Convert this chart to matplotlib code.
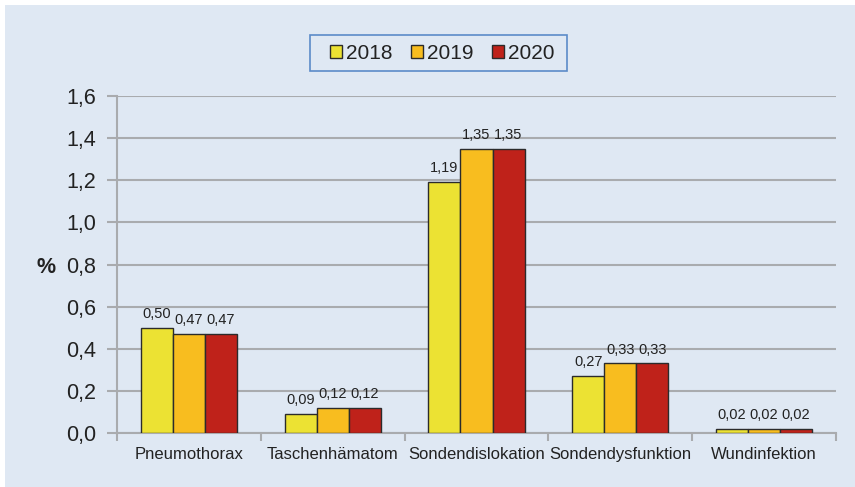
import matplotlib.pyplot as plt
import matplotlib.patches as mpatches
import numpy as np

plt.rcParams['font.family'] = ['Liberation Sans', 'DejaVu Sans']

# Data
categories = ['Pneumothorax', 'Taschenhämatom', 'Sondendislokation',
              'Sondendysfunktion', 'Wundinfektion']
years = ['2018', '2019', '2020']
values_2018 = [0.50, 0.09, 1.19, 0.27, 0.02]
values_2019 = [0.47, 0.12, 1.35, 0.33, 0.02]
values_2020 = [0.47, 0.12, 1.35, 0.33, 0.02]
y_ticks = [0.0, 0.2, 0.4, 0.6, 0.8, 1.0, 1.2, 1.4, 1.6]

colors = ['#ECE233', '#F8BD1F', '#BF221A']
bg = '#DFE8F3'
grid_col = '#A9ABAE'
W, H = 855, 487

fig = plt.figure(figsize=(8.55, 4.87), dpi=100)
fig.patch.set_facecolor('white')
# light blue panel with a thin white margin top/left
fig.patches.append(mpatches.Rectangle((5 / W, 0), 1, 1 - 5 / H,
                                      transform=fig.transFigure,
                                      facecolor=bg, edgecolor='none', zorder=-10))

ax = fig.add_axes([117 / W, 1 - 433 / H, (836 - 117) / W, (433 - 96) / H])
ax.set_facecolor(bg)

x = np.arange(len(categories))
w = 0.2226
series = [values_2018, values_2019, values_2020]
for i, (vals, col, yr) in enumerate(zip(series, colors, years)):
    bars = ax.bar(x + (i - 1) * w, vals, w, color=col, edgecolor='#2b2b2b',
                  linewidth=1.0, label=yr, zorder=3)
    for b, v in zip(bars, vals):
        ax.annotate(f'{v:.2f}'.replace('.', ','),
                    (b.get_x() + b.get_width() / 2, v),
                    xytext=(0, 5), textcoords='offset points',
                    ha='center', va='bottom', fontsize=10.5, color='#222222')

ax.set_xlim(-0.5, len(categories) - 0.5)
ax.set_ylim(0, 1.6)
ax.set_yticks(y_ticks)
ax.set_yticklabels([f'{t:.1f}'.replace('.', ',') for t in y_ticks],
                   fontsize=15.5, color='#222222')
ax.yaxis.grid(True, color=grid_col, linewidth=1.5, zorder=0)
ax.set_axisbelow(True)

ax.set_xticks(x)
ax.set_xticklabels(categories, fontsize=12, color='#222222')
ax.tick_params(axis='x', length=0, pad=10)
ax.set_xticks(np.arange(-0.5, len(categories)), minor=True)
ax.tick_params(axis='x', which='minor', length=6, width=1.5, color=grid_col)
ax.tick_params(axis='y', length=7, width=1.5, color=grid_col, pad=8)

for s in ['top', 'right']:
    ax.spines[s].set_visible(False)
for s in ['left', 'bottom']:
    ax.spines[s].set_color(grid_col)
    ax.spines[s].set_linewidth(1.5)

ax.set_ylabel('%', fontsize=15.5, fontweight='bold', rotation=0,
              color='#222222', va='center', ha='center')
ax.yaxis.set_label_coords((46 - 117) / (836 - 117), 0.49)

# legend: frameless entries + separate box
leg = fig.legend(loc='center', bbox_to_anchor=(442 / W, 1 - 53.5 / H), ncol=3,
                 fontsize=15, frameon=False,
                 handlelength=0.58, handleheight=0.58, handletextpad=0.2,
                 columnspacing=0.87, borderpad=0, borderaxespad=0)
for t in leg.get_texts():
    t.set_color('#222222')
fig.patches.append(mpatches.Rectangle((310 / W, 1 - 71 / H), (567 - 310) / W, 36 / H,
                                      transform=fig.transFigure, facecolor='none',
                                      edgecolor='#5B8BC8', linewidth=1.2, zorder=5))

plt.savefig('out.png', dpi=100, facecolor=fig.get_facecolor())
